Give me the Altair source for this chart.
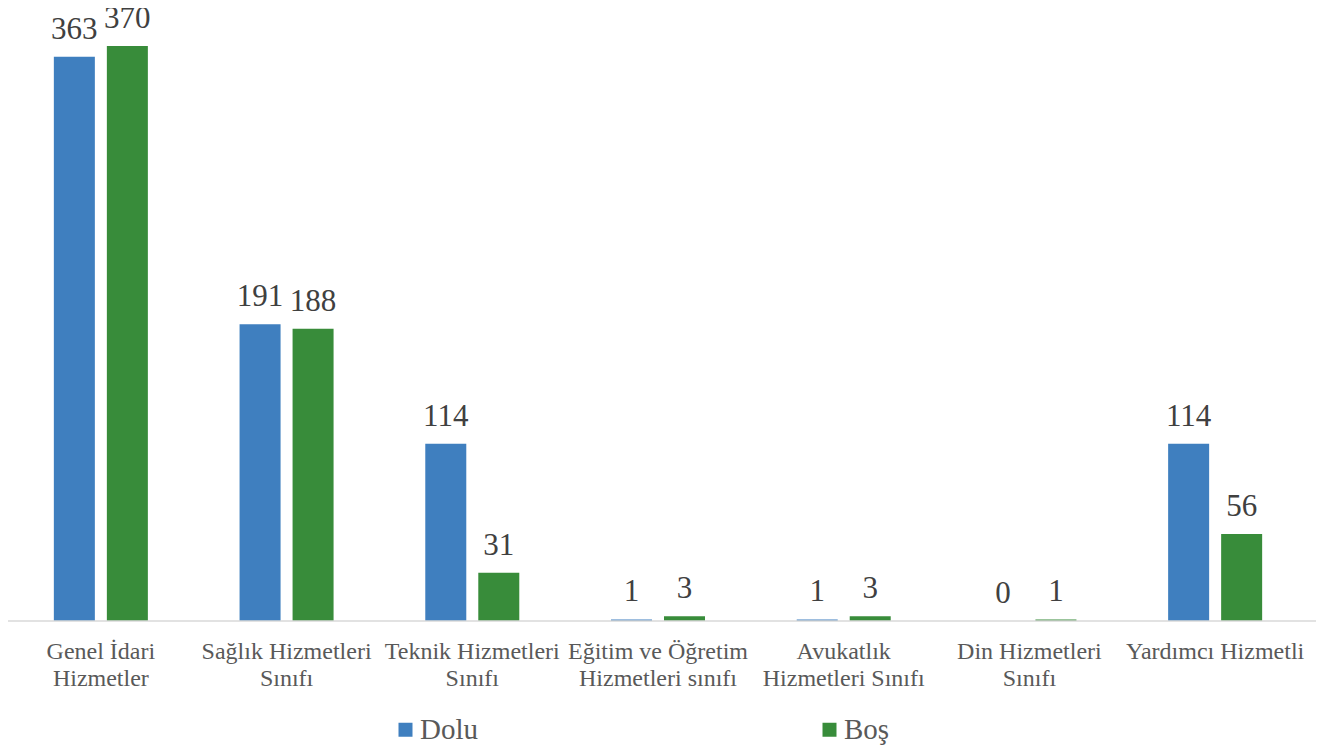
import altair as alt
import pandas as pd

categories = [
    "Genel İdari|Hizmetler",
    "Sağlık Hizmetleri|Sınıfı",
    "Teknik Hizmetleri|Sınıfı",
    "Eğitim ve Öğretim|Hizmetleri sınıfı",
    "Avukatlık|Hizmetleri Sınıfı",
    "Din Hizmetleri|Sınıfı",
    "Yardımcı Hizmetli",
]
dolu = [363, 191, 114, 1, 1, 0, 114]
bos = [370, 188, 31, 3, 3, 1, 56]
series = ["Dolu", "Boş"]
colors = ["#3F7FBF", "#388C3A"]

rows = []
for i, c in enumerate(categories):
    rows.append({"cat": c, "series": series[0], "value": dolu[i]})
    rows.append({"cat": c, "series": series[1], "value": bos[i]})
df = pd.DataFrame(rows)

FONT = "Liberation Serif"

x = alt.X(
    "cat:N",
    sort=categories,
    scale=alt.Scale(paddingInner=0, paddingOuter=0),
    axis=alt.Axis(
        title=None,
        labelExpr="split(datum.label, '|')",
        labelAngle=0,
        labelFont=FONT,
        labelFontSize=24,
        labelColor="#595959",
        labelPadding=18,
        labelLineHeight=27,
        labelBaseline="top",
        ticks=False,
        tickSize=0,
        domain=False,
        labelOverlap=False,
        labelLimit=0,
        grid=False,
    ),
)
xo = alt.XOffset("series:N", sort=series,
                 scale=alt.Scale(paddingInner=0.2264, paddingOuter=0.865))
y = alt.Y("value:Q", scale=alt.Scale(domain=[0, 394.4], nice=False, zero=True), axis=None)
color = alt.Color(
    "series:N",
    sort=series,
    scale=alt.Scale(domain=series, range=colors),
    legend=alt.Legend(
        title=None,
        orient="none",
        legendX=383,
        legendY=707,
        direction="horizontal",
        symbolType="square",
        symbolSize=196,
        symbolStrokeWidth=0,
        labelFont=FONT,
        labelFontSize=29,
        labelColor="#595959",
        labelOffset=0,
        columnPadding=337,
        padding=0,
    ),
)

base = alt.Chart(df)
bars = base.mark_bar().encode(x=x, xOffset=xo, y=y, color=color)
labels = base.mark_text(
    baseline="alphabetic", dy=-18, fontSize=31, font=FONT, color="#404040"
).encode(x=x, xOffset=xo, y=y, text=alt.Text("value:Q"))

rule = alt.Chart(pd.DataFrame({"a": [0]})).mark_rule(
    color="#D9D9D9", strokeWidth=1.5
).encode(x=alt.value(-2), x2=alt.value(1310), y=alt.value(613))

chart = (
    alt.layer(bars, labels, rule)
    .properties(
        width=1300,
        height=613,
        padding={"top": 0, "left": 0, "right": 8, "bottom": 126},
        autosize=alt.AutoSizeParams(type="none"),
    )
    .configure_view(stroke=None)
)

chart.save("out.html", embed_options={"renderer": "svg", "actions": False})
